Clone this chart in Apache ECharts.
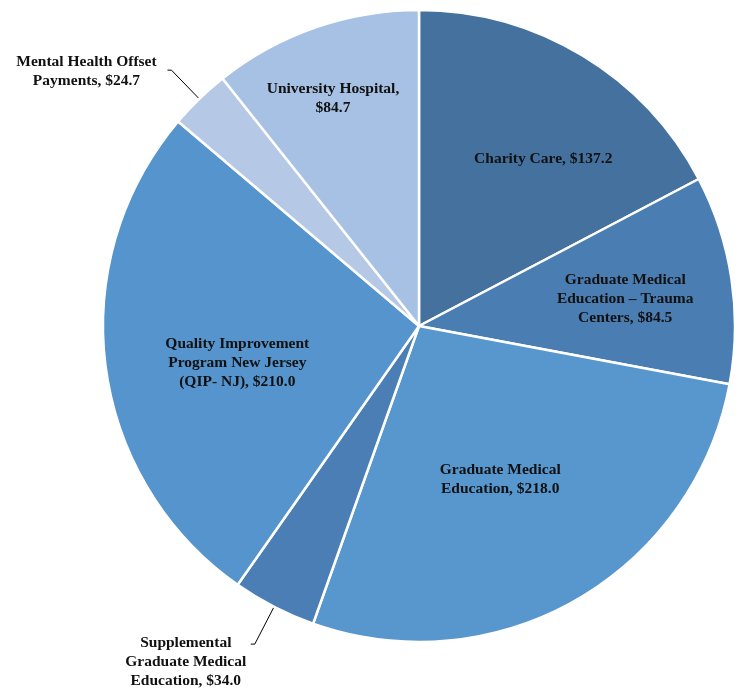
<!DOCTYPE html>
<html>
<head>
<meta charset="utf-8">
<script src="https://cdn.jsdelivr.net/npm/echarts@6/dist/echarts.min.js"></script>
<style>
  html, body { margin: 0; padding: 0; background: #fff; }
  #chart { width: 738px; height: 690px; }
</style>
</head>
<body>
<div id="chart"></div>
<script>
// 各项资金（百万美元），顺时针从 12 点方向开始
const categories = [
  'Charity Care',
  'Graduate Medical\nEducation – Trauma\nCenters',
  'Graduate Medical\nEducation',
  'Supplemental\nGraduate Medical\nEducation',
  'Quality Improvement\nProgram New Jersey\n(QIP- NJ)',
  'Mental Health Offset\nPayments',
  'University Hospital',
]
const values = [137.2, 84.5, 218.0, 34.0, 210.0, 24.7, 84.7]
const colors = ['#44719e', '#4a7db1', '#5896ce', '#4a7eb5', '#5594cc', '#b5c8e6', '#a7c1e4']

// 标签文字（与分类分开，换行位置按原图）
const labelTexts = [
  'Charity Care, $137.2',
  'Graduate Medical\nEducation – Trauma\nCenters, $84.5',
  'Graduate Medical\nEducation, $218.0',
  'Supplemental\nGraduate Medical\nEducation, $34.0',
  'Quality Improvement\nProgram New Jersey\n(QIP- NJ), $210.0',
  'Mental Health Offset\nPayments, $24.7',
  'University Hospital,\n$84.7',
]

// 标签微调偏移（像素）
const labelShift = [[41, -29], [47, -3], [1, 14], [-60, 18], [-22, 16], [-76, 1], [-33, -75]]
const outside = [false, false, false, true, false, true, false]

const chart = echarts.init(document.getElementById('chart'), null, { renderer: 'canvas' })

const data = values.map((v, i) => ({
  name: categories[i],
  value: v,
  itemStyle: { color: colors[i] },
  label: {
    show: true,
    position: outside[i] ? 'outside' : 'inside',
    formatter: labelTexts[i],
  },
  labelLine: outside[i]
    ? { show: true, length: i === 5 ? 40 : 42, length2: 4, lineStyle: { color: '#000', width: 1 } }
    : { show: false },
}))

chart.setOption({
  animation: false,
  backgroundColor: '#fff',
  series: [{
    type: 'pie',
    center: [419, 326],
    radius: [0, 316],
    startAngle: 90,
    clockwise: true,
    avoidLabelOverlap: false,
    itemStyle: { borderColor: '#fff', borderWidth: 2.5 },
    label: {
      color: '#111',
      fontFamily: '"Liberation Serif", "DejaVu Serif", serif',
      fontWeight: 'bold',
      fontSize: 15.5,
      lineHeight: 19,
      align: 'center',
    },
    labelLayout: p => {
      const i = p.dataIndex
      const o = { dx: labelShift[i][0], dy: labelShift[i][1] }
      if (outside[i]) o.align = 'center'
      return o
    },
    data,
  }],
})
</script>
</body>
</html>
